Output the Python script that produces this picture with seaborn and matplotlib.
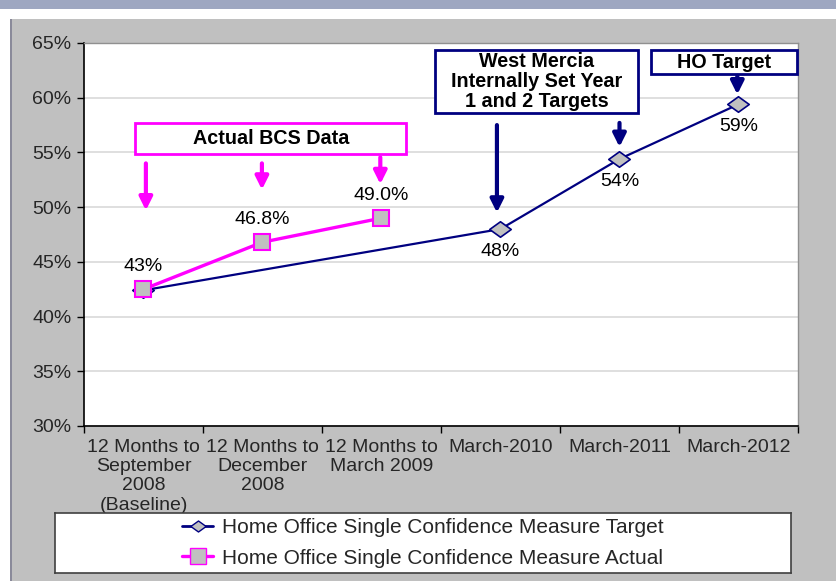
import matplotlib
matplotlib.use("Agg")
import matplotlib.pyplot as plt
import seaborn as sns
import numpy as np
import pandas as pd
from matplotlib.patches import Rectangle
from matplotlib.path import Path
from matplotlib.lines import Line2D

categories = ["12 Months to\nSeptember\n2008\n(Baseline)", "12 Months to\nDecember\n2008",
              "12 Months to\nMarch 2009", "March-2010", "March-2011", "March-2012"]
target_values = [42.4, np.nan, np.nan, 48.0, 54.4, 59.4]
actual_values = [42.5, 46.8, 49.0, np.nan, np.nan, np.nan]
target_labels = ["", "", "", "48%", "54%", "59%"]
actual_labels = ["43%", "46.8%", "49.0%", "", "", ""]
yticks = [30, 35, 40, 45, 50, 55, 60, 65]
series_names = ["Home Office Single Confidence Measure Target",
                "Home Office Single Confidence Measure Actual"]

sns.set_theme(style="white")
plt.rcParams["font.family"] = ["Liberation Sans", "DejaVu Sans"]

NAVY = "#000080"
MAG = "#ff00ff"
GREY = "#c0c0c0"
FS = 14

fig = plt.figure(figsize=(8.37, 5.81), dpi=100)
fig.patch.set_facecolor(GREY)
# frame decorations
fig.patches.append(Rectangle((0, 1 - 9 / 581), 1, 9 / 581, transform=fig.transFigure,
                             facecolor="#9ea7c1", edgecolor="none", zorder=-5))
fig.patches.append(Rectangle((0, 1 - 19 / 581), 1, 10 / 581, transform=fig.transFigure,
                             facecolor="white", edgecolor="none", zorder=-5))
fig.patches.append(Rectangle((0, 0), 10 / 837, 1 - 19 / 581, transform=fig.transFigure,
                             facecolor="white", edgecolor="none", zorder=-5))
fig.patches.append(Rectangle((10 / 837, 0), 2 / 837, 1 - 19 / 581, transform=fig.transFigure,
                             facecolor="#8a8a9a", edgecolor="none", zorder=-4))

ax = fig.add_axes([84 / 837, 1 - 426 / 581, (798 - 84) / 837, (426 - 43) / 581])
ax.set_facecolor("white")

xs = np.arange(len(categories))
df_t = pd.DataFrame({"x": xs, "y": target_values}).dropna()
df_a = pd.DataFrame({"x": xs, "y": actual_values}).dropna()

diamond = Path([(-1, 0), (0, 0.72), (1, 0), (0, -0.72), (-1, 0)],
               [Path.MOVETO, Path.LINETO, Path.LINETO, Path.LINETO, Path.CLOSEPOLY])

sns.lineplot(data=df_t, x="x", y="y", ax=ax, color=NAVY, lw=1.6, marker=diamond,
             markersize=15.5, markerfacecolor=GREY, markeredgecolor=NAVY, markeredgewidth=1.2,
             zorder=3, clip_on=False)
sns.lineplot(data=df_a, x="x", y="y", ax=ax, color=MAG, lw=2.4, marker="s",
             markersize=11, markerfacecolor=GREY, markeredgecolor=MAG, markeredgewidth=1.5,
             zorder=4, clip_on=False)

ax.set_xlim(-0.5, len(categories) - 0.5)
ax.set_ylim(30, 65)
ax.set_yticks(yticks)
ax.set_yticklabels([f"{v}%" for v in yticks], fontsize=FS)
ax.set_xticks(np.arange(-0.5, len(categories), 1.0))
ax.set_xticklabels([])
ax.set_xticks(xs, minor=True)
ax.set_xticklabels(categories, minor=True, fontsize=FS, linespacing=1.18)
ax.tick_params(axis="x", which="minor", length=0, pad=9)
ax.tick_params(axis="x", which="major", length=5, width=1, color="black", direction="out", bottom=True)
ax.tick_params(axis="y", length=5, width=1, color="black", direction="out", left=True, pad=4)
ax.set_xlabel("")
ax.set_ylabel("")
ax.grid(axis="y", color="#d9d9d9", lw=1.2)
ax.set_axisbelow(True)
for s in ["top", "right"]:
    ax.spines[s].set_color("#909090")
    ax.spines[s].set_linewidth(1)
for s in ["left", "bottom"]:
    ax.spines[s].set_color("black")
    ax.spines[s].set_linewidth(1.2)

# data labels
for x, v, lab in zip(xs, target_values, target_labels):
    if lab:
        ax.annotate(lab, (x, v), xytext=(0, -16), textcoords="offset points",
                    ha="center", va="center", fontsize=FS, color="black")
for x, v, lab in zip(xs, actual_values, actual_labels):
    if lab:
        ax.annotate(lab, (x, v), xytext=(0, 16), textcoords="offset points",
                    ha="center", va="center", fontsize=FS, color="black")

# annotation boxes
def box(x0, x1, y0, y1, color, text, ls=1.2):
    ax.add_patch(Rectangle((x0, y0), x1 - x0, y1 - y0, facecolor="white", edgecolor=color,
                           lw=2, clip_on=False, zorder=6))
    ax.text((x0 + x1) / 2, (y0 + y1) / 2, text, ha="center", va="center", fontsize=14.2,
            fontweight="bold", color="black", zorder=7, linespacing=ls, clip_on=False)

box(-0.07, 2.21, 54.85, 57.65, MAG, "Actual BCS Data")
box(2.45, 4.155, 58.6, 64.35, NAVY, "West Mercia\nInternally Set Year\n1 and 2 Targets", ls=1.05)
box(4.265, 5.49, 62.15, 64.35, NAVY, "HO Target")

def arrow(x, y0, y1, color, lw):
    ax.annotate("", xy=(x, y1), xytext=(x, y0),
                arrowprops=dict(arrowstyle="-|>,head_width=0.35,head_length=0.7",
                                color=color, lw=lw, shrinkA=0, shrinkB=0, mutation_scale=11),
                zorder=6, annotation_clip=False)

arrow(0.02, 54.0, 49.7, MAG, 3)
arrow(0.995, 54.0, 51.6, MAG, 3)
arrow(1.99, 54.55, 52.1, MAG, 3)
arrow(2.97, 57.5, 49.5, NAVY, 3)
arrow(4.0, 57.7, 55.5, NAVY, 3)
arrow(4.99, 62.0, 60.3, NAVY, 3)

# legend
handles = [Line2D([0], [0], color=NAVY, lw=2, marker=diamond, markersize=11,
                  markerfacecolor=GREY, markeredgecolor=NAVY),
           Line2D([0], [0], color=MAG, lw=2.4, marker="s", markersize=11,
                  markerfacecolor=GREY, markeredgecolor=MAG)]
leg_ax = fig.add_axes([55 / 837, 1 - 573 / 581, (791 - 55) / 837, (573 - 513) / 581])
leg_ax.set_facecolor("white")
leg_ax.set_xticks([])
leg_ax.set_yticks([])
for s in leg_ax.spines.values():
    s.set_color("#404040")
    s.set_linewidth(1.2)
    s.set_visible(True)
leg_ax.legend(handles, series_names, loc="center", bbox_to_anchor=(0.5, 0.5), frameon=False,
              fontsize=15, handlelength=1.5, labelspacing=0.55, handletextpad=0.45,
              borderaxespad=0)

fig.savefig("out.png", dpi=100, facecolor=fig.get_facecolor())
